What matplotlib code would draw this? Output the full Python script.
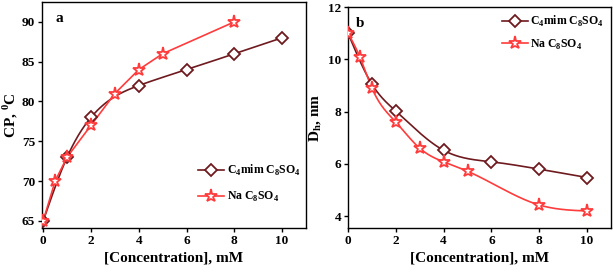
import numpy as np
import matplotlib
matplotlib.use("Agg")
import matplotlib.pyplot as plt

plt.rcParams['font.family'] = ['Liberation Serif', 'DejaVu Serif']
plt.rcParams['font.weight'] = 'bold'
plt.rcParams['mathtext.fontset'] = 'custom'
plt.rcParams['mathtext.rm'] = 'Liberation Serif:bold'
plt.rcParams['mathtext.bf'] = 'Liberation Serif:bold'

# Panel a: cloud point
a_c4_x = [0, 1, 2, 4, 6, 8, 10]
a_c4_y = [65, 73, 78, 82, 84, 86, 88]
a_na_x = [0, 0.5, 1, 2, 3, 4, 5, 8]
a_na_y = [65, 70, 73, 77, 81, 84, 86, 90]

# Panel b: hydrodynamic diameter
b_c4_x = [0, 1, 2, 4, 6, 8, 10]
b_c4_y = [11.0, 9.05, 8.02, 6.52, 6.08, 5.8, 5.48]
b_na_x = [0, 0.5, 1, 2, 3, 4, 5, 8, 10]
b_na_y = [11.0, 10.08, 8.9, 7.6, 6.6, 6.08, 5.72, 4.43, 4.2]

lab_c4 = r'C$_{\mathregular{4}}$mim C$_{\mathregular{8}}$SO$_{\mathregular{4}}$'
lab_na = r'Na C$_{\mathregular{8}}$SO$_{\mathregular{4}}$'

DARK = '#6e1a1f'
RED = '#ff3b3b'


def natural_spline(x, y, n=300):
    x = np.asarray(x, float); y = np.asarray(y, float)
    N = len(x); h = np.diff(x)
    A = np.zeros((N, N)); r = np.zeros(N)
    A[0, 0] = 1; A[-1, -1] = 1
    for i in range(1, N - 1):
        A[i, i - 1] = h[i - 1]; A[i, i] = 2 * (h[i - 1] + h[i]); A[i, i + 1] = h[i]
        r[i] = 6 * ((y[i + 1] - y[i]) / h[i] - (y[i] - y[i - 1]) / h[i - 1])
    M = np.linalg.solve(A, r)
    xs = np.linspace(x[0], x[-1], n)
    idx = np.clip(np.searchsorted(x, xs) - 1, 0, N - 2)
    xi = x[idx]; xj = x[idx + 1]; hi = h[idx]
    ys = (M[idx] * (xj - xs) ** 3 / (6 * hi) + M[idx + 1] * (xs - xi) ** 3 / (6 * hi)
          + (y[idx] / hi - M[idx] * hi / 6) * (xj - xs)
          + (y[idx + 1] / hi - M[idx + 1] * hi / 6) * (xs - xi))
    return xs, ys


fig = plt.figure(figsize=(6.14, 2.73), dpi=100)
ax1 = fig.add_axes([42/614, 1 - 228/273, 264/614, 226/273])
ax2 = fig.add_axes([348/614, 1 - 228/273, 263/614, 221/273])


def series(ax, x, y, color, marker, ms, label, smooth):
    if smooth:
        xs, ys = natural_spline(x, y)
        ax.plot(xs, ys, color=color, lw=1.2, zorder=2)
    else:
        ax.plot(x, y, color=color, lw=1.2, zorder=2)
    ax.plot(x, y, linestyle='none', marker=marker, ms=ms, mfc='white',
            mec=color, mew=1.3, zorder=3)
    ax.plot([], [], color=color, lw=1.2, marker=marker, ms=ms, mfc='white',
            mec=color, mew=1.3, label=label)


series(ax1, a_c4_x, a_c4_y, DARK, 'D', 6, lab_c4, True)
series(ax1, a_na_x, a_na_y, RED, '*', 9.5, lab_na, False)
series(ax2, b_c4_x, b_c4_y, DARK, 'D', 6, lab_c4, True)
series(ax2, b_na_x, b_na_y, RED, '*', 9.5, lab_na, True)

ax1.set_xlim(-0.05, 11)
ax1.set_ylim(64.1, 92.5)
ax1.set_xticks([0, 2, 4, 6, 8, 10])
ax1.set_yticks([65, 70, 75, 80, 85, 90])
ax1.set_xlabel('[Concentration], mM', fontsize=11, fontweight='bold', labelpad=3)
ax1.set_ylabel(r'CP, $^{\mathregular{0}}$C', fontsize=11, fontweight='bold', labelpad=1)
ax1.text(0.05, 0.955, 'a', transform=ax1.transAxes, fontsize=11, fontweight='bold',
         va='top', ha='left')
ax1.legend(loc='lower right', bbox_to_anchor=(1.01, 0.07), frameon=False, fontsize=8.5,
           handlelength=2.2, handletextpad=0.2, borderaxespad=0.3, labelspacing=1.0)

ax2.set_xlim(0, 11)
ax2.set_ylim(3.55, 12)
ax2.set_xticks([0, 2, 4, 6, 8, 10])
ax2.set_yticks([4, 6, 8, 10, 12])
ax2.set_xlabel('[Concentration], mM', fontsize=11, fontweight='bold', labelpad=3)
ax2.set_ylabel(r'D$_{\mathregular{h}}$, nm', fontsize=11, fontweight='bold', labelpad=3)
ax2.text(0.03, 0.955, 'b', transform=ax2.transAxes, fontsize=11, fontweight='bold',
         va='top', ha='left')
ax2.legend(loc='upper right', frameon=False, fontsize=8.5,
           handlelength=2.2, handletextpad=0.2, borderaxespad=0.2, labelspacing=0.7)

for ax in (ax1, ax2):
    for s in ax.spines.values():
        s.set_linewidth(1.0)
    ax.tick_params(direction='out', length=3, width=1, labelsize=9.5, pad=2)
    for t in ax.get_xticklabels() + ax.get_yticklabels():
        t.set_fontweight('bold')

fig.savefig('out.png', dpi=100)
